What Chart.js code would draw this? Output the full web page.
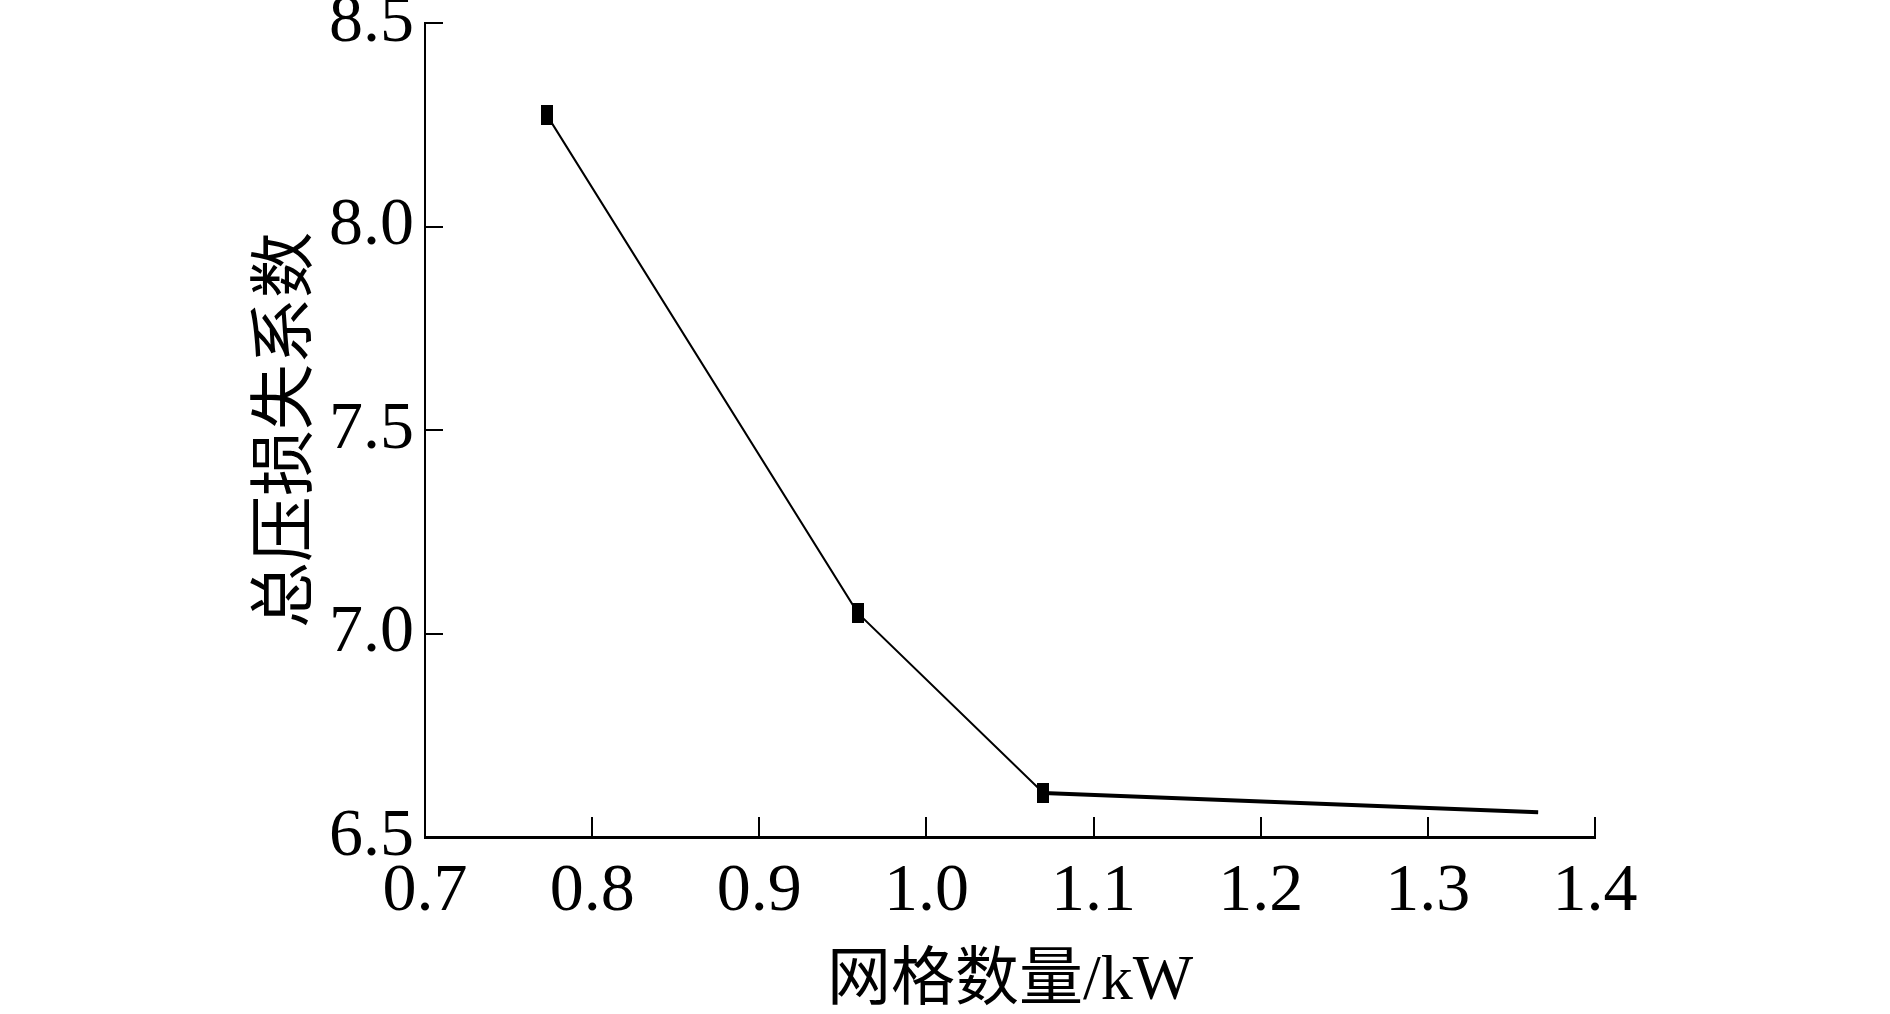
<!DOCTYPE html>
<html><head><meta charset="utf-8">
<script src="https://cdn.jsdelivr.net/npm/chart.js@4"></script>
<style>html,body{margin:0;padding:0;background:#fff;overflow:hidden}#wrap{width:1890px;height:1014px;position:relative}</style>
</head><body><div id="wrap"><canvas id="c" width="1890" height="1014"></canvas></div>
<script>
// ---- data ----
const gridCount = [0.773, 0.959, 1.070, 1.366];
const lossCoef  = [8.273, 7.050, 6.608, 6.561];
const xTicks = [0.7, 0.8, 0.9, 1.0, 1.1, 1.2, 1.3, 1.4];
const yTicks = [6.5, 7.0, 7.5, 8.0, 8.5];
const xTitle = '网格数量/kW';
const yTitle = '总压损失系数';

const serif = "'Liberation Serif','Times New Roman',serif";
const titleFont = "'Liberation Serif','Noto Sans CJK SC',serif";

const mk = document.createElement('canvas');
mk.width = 12; mk.height = 20;
const g = mk.getContext('2d'); g.fillStyle = '#000'; g.fillRect(0, 0, 12, 20);

const inwardTicks = {
  id: 'inwardTicks',
  afterDraw(chart) {
    const {ctx, scales: {x, y}, chartArea} = chart;
    ctx.save();
    ctx.strokeStyle = '#000';
    ctx.lineWidth = 2;
    ctx.beginPath();
    x.ticks.forEach(t => {
      if (t.value === x.min) return;
      const px = Math.round(x.getPixelForValue(t.value));
      ctx.moveTo(px, chartArea.bottom);
      ctx.lineTo(px, chartArea.bottom - 20);
    });
    y.ticks.forEach(t => {
      if (t.value === y.min) return;
      const py = Math.round(y.getPixelForValue(t.value));
      ctx.moveTo(chartArea.left, py);
      ctx.lineTo(chartArea.left + 18, py);
    });
    ctx.stroke();
    ctx.restore();
  }
};

new Chart(document.getElementById('c'), {
  type: 'line',
  data: {
    datasets: [{
      data: gridCount.map((v, i) => ({x: v, y: lossCoef[i]})),
      borderColor: '#000',
      backgroundColor: '#000',
      borderWidth: 2,
      fill: false,
      tension: 0,
      pointStyle: ctx => ctx.dataIndex === gridCount.length - 1 ? false : mk,
      pointRadius: 6,
      segment: {
        borderWidth: ctx => ctx.p1DataIndex === gridCount.length - 1 ? 4 : 2
      }
    }]
  },
  options: {
    responsive: false,
    animation: false,
    devicePixelRatio: 1,
    layout: {padding: {left: 256, right: 295, top: 23, bottom: 0}},
    plugins: {legend: {display: false}, tooltip: {enabled: false}},
    scales: {
      x: {
        type: 'linear',
        min: 0.7, max: 1.4,
        afterBuildTicks: s => { s.ticks = xTicks.map(v => ({value: v})); },
        afterFit: s => { s.height = 177; s.paddingLeft = 0; s.paddingRight = 0; },
        grid: {display: false, drawTicks: false, tickLength: 0},
        border: {display: true, color: '#000', width: 3},
        ticks: {
          color: '#000', padding: 14, maxRotation: 0, autoSkip: false,
          font: {family: serif, size: 68, lineHeight: 1.2},
          callback: v => Number(v).toFixed(1)
        },
        title: {display: true, text: xTitle, color: '#000', padding: 0,
          font: {family: titleFont, size: 64, lineHeight: 1}}
      },
      y: {
        type: 'linear',
        min: 6.5, max: 8.5,
        afterBuildTicks: s => { s.ticks = yTicks.map(v => ({value: v})); },
        afterFit: s => { s.width = 169; s.paddingTop = 0; s.paddingBottom = 0; },
        grid: {display: false, drawTicks: false, tickLength: 0},
        border: {display: true, color: '#000', width: 2},
        ticks: {
          color: '#000', padding: 11, autoSkip: false,
          font: {family: serif, size: 68, lineHeight: 1.2},
          callback: v => Number(v).toFixed(1)
        },
        title: {display: true, text: yTitle, color: '#000', padding: 0,
          font: {family: titleFont, size: 66, lineHeight: 1}}
      }
    }
  },
  plugins: [inwardTicks]
});
</script></body></html>
